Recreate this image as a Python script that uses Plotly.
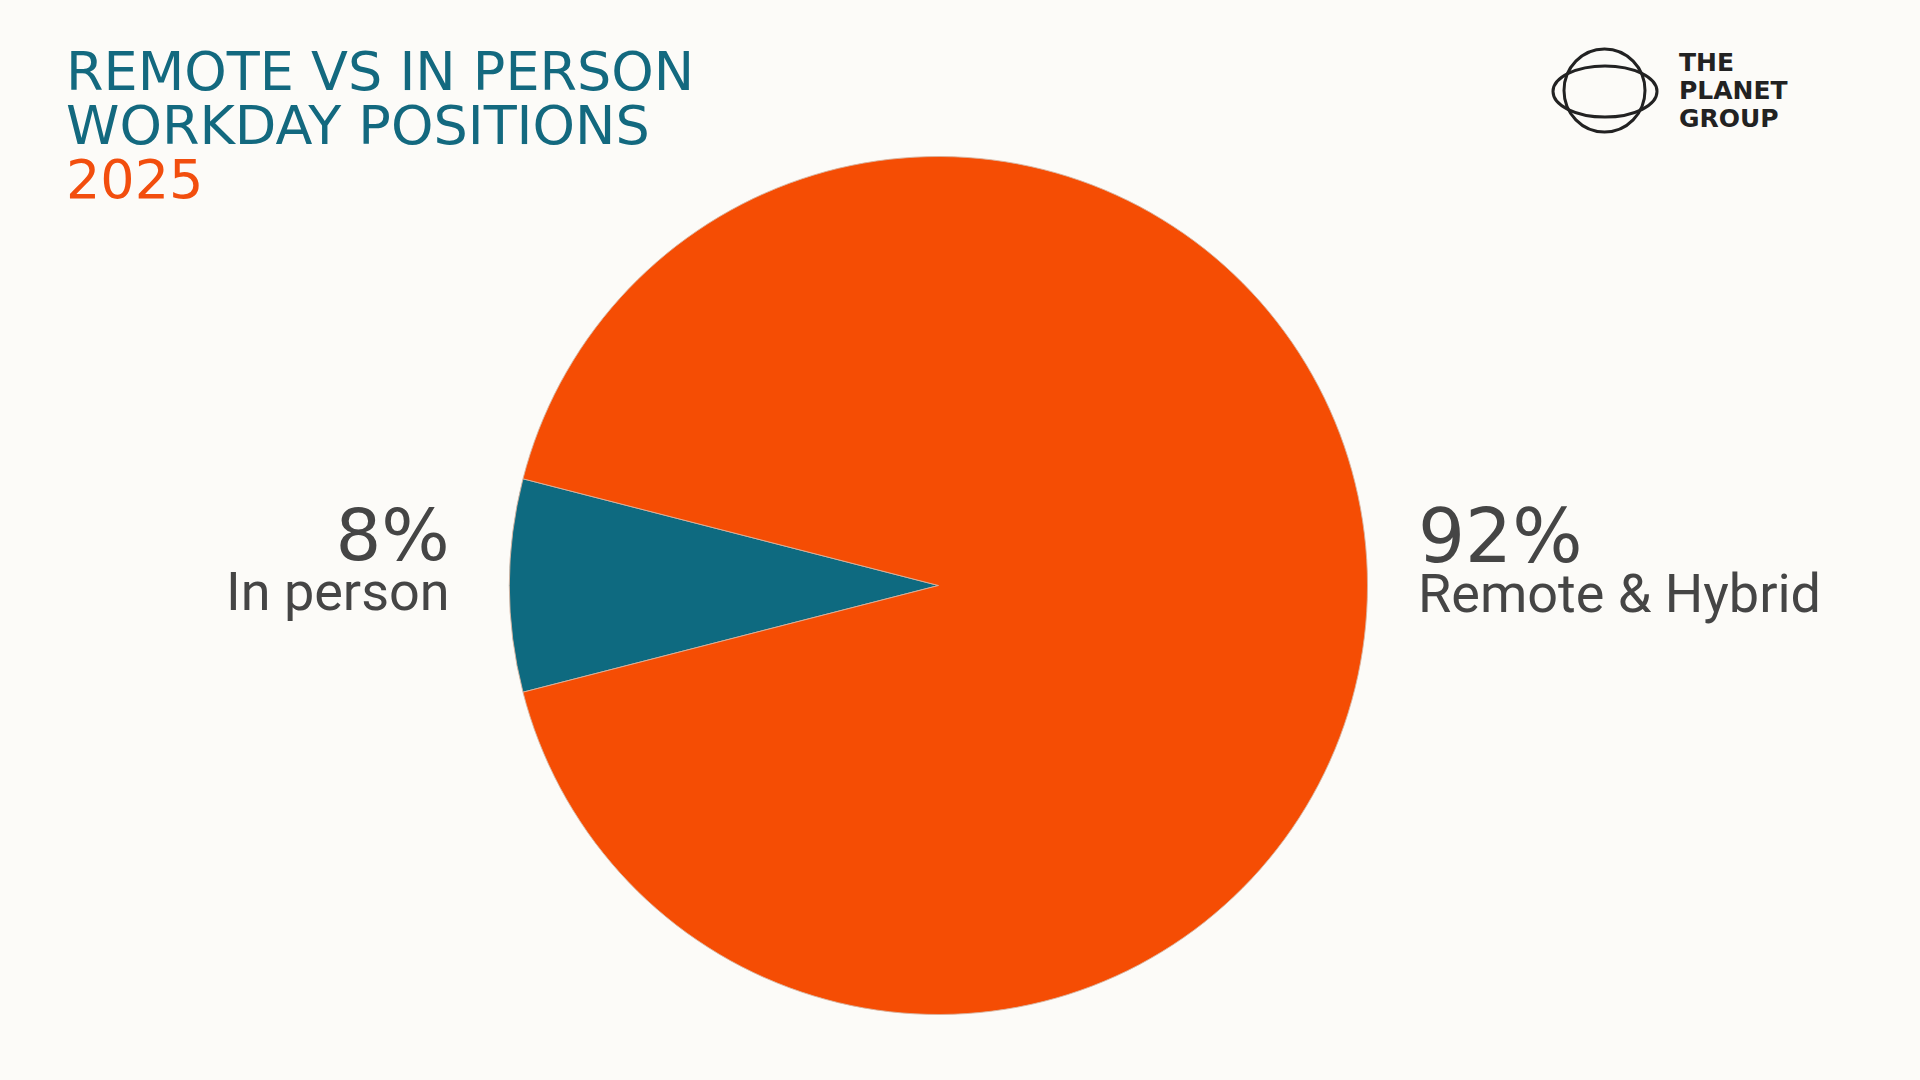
import plotly.graph_objects as go

# ---- data ----
categories = ["In person", "Remote & Hybrid"]
values = [8, 92]
pct_labels = ["8%", "92%"]
slice_colors = ["#0E6A80", "#F54D04"]

title_lines = ["REMOTE VS IN PERSON", "WORKDAY POSITIONS"]
title_year = "2025"
logo_lines = ["THE", "PLANET", "GROUP"]

W, H = 1920, 1080
BG = "#FCFBF8"
TEAL = "#13697F"
ORANGE = "#F24E0E"
GRAY = "#454545"


def X(px):
    return px / W


def Y(py):
    return 1 - py / H


fig = go.Figure()

fig.add_trace(go.Pie(
    labels=categories,
    values=values,
    marker=dict(colors=slice_colors, line=dict(color="rgba(215,180,160,0.9)", width=1)),
    sort=False,
    direction="clockwise",
    rotation=270 - values[0] / sum(values) * 360 / 2,
    textinfo="none",
    hoverinfo="label+percent",
    showlegend=False,
    domain=dict(x=[X(509.5), X(1367.5)], y=[Y(1014.5), Y(156.5)]),
))

ann = []

# title block: one annotation, line spacing from base font size
title_text = "<br>".join(
    [f"<span style='font-size:54px'>{t}</span>" for t in title_lines]
    + [f"<span style='font-size:54px;color:{ORANGE}'>{title_year}</span>"]
)
ann.append(dict(text=title_text, x=X(64), y=Y(38), xanchor="left", yanchor="top", align="left",
                font=dict(family="DejaVu Sans", size=41.5, color=TEAL)))

# slice labels
def label_text(pct, name, pct_size):
    return (f"<span style='font-size:{pct_size}px;font-family:DejaVu Sans'>{pct}</span><br>"
            f"<span style='font-size:54px'>{name}</span>")

ann.append(dict(text=label_text(pct_labels[0], categories[0], 72), x=X(452), y=Y(491),
                xanchor="right", yanchor="top", align="right",
                font=dict(family="Roboto", size=38.5, color=GRAY)))
ann.append(dict(text=label_text(pct_labels[1], categories[1], 74), x=X(1416), y=Y(491),
                xanchor="left", yanchor="top", align="left",
                font=dict(family="Roboto", size=38.5, color=GRAY)))

# logo text
logo_text = "<br>".join(f"<span style='font-size:25px'><b>{t}</b></span>" for t in logo_lines)
ann.append(dict(text=logo_text, x=X(1677), y=Y(46), xanchor="left", yanchor="top", align="left",
                font=dict(family="DejaVu Sans", size=21.5, color="#222222")))

for a in ann:
    a.update(xref="paper", yref="paper", showarrow=False)

shapes = [
    # planet logo: near-circle and wide ellipse
    dict(type="circle", xref="paper", yref="paper",
         x0=X(1564), x1=X(1645), y0=Y(132), y1=Y(49),
         line=dict(color="#222222", width=3)),
    dict(type="circle", xref="paper", yref="paper",
         x0=X(1553), x1=X(1657), y0=Y(117), y1=Y(66),
         line=dict(color="#222222", width=3)),
]

fig.update_layout(
    width=W, height=H,
    margin=dict(l=0, r=0, t=0, b=0),
    paper_bgcolor=BG, plot_bgcolor=BG,
    annotations=ann,
    shapes=shapes,
)

fig.write_html("out.html", config={"displayModeBar": False},
               post_script="document.body.style.margin='0';")
